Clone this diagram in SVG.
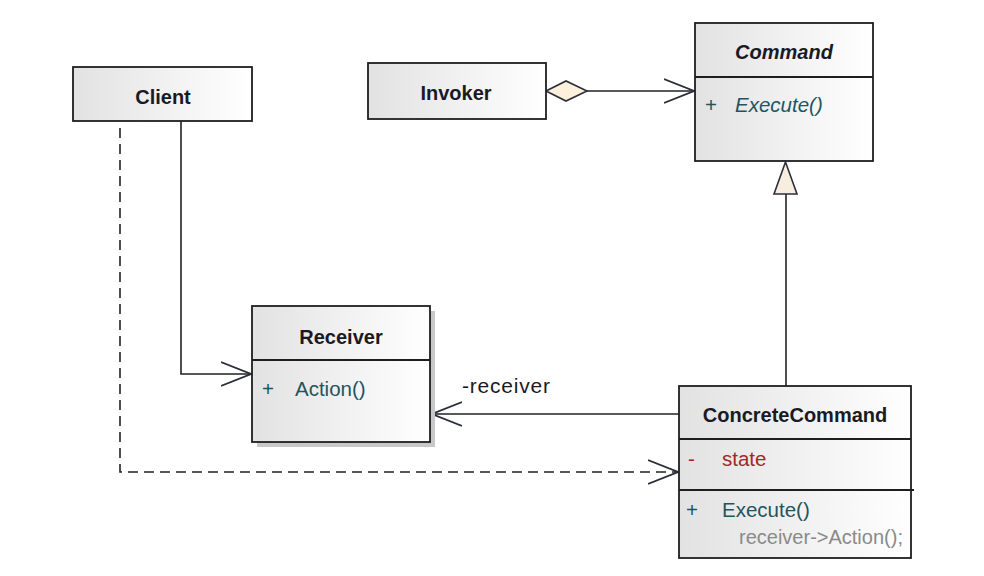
<svg xmlns="http://www.w3.org/2000/svg" width="984" height="576" viewBox="0 0 984 576">
<defs>
<linearGradient id="boxfill" x1="0" y1="0" x2="1" y2="0">
<stop offset="0" stop-color="#e2e2e2"/>
<stop offset="1" stop-color="#ffffff"/>
</linearGradient>
<marker id="open" viewBox="0 0 32 26" refX="30" refY="13" markerWidth="32" markerHeight="26" markerUnits="userSpaceOnUse" orient="auto">
<path d="M0,1 L30,13 L0,25" fill="none" stroke="#2b2f3a" stroke-width="1.8"/>
</marker>
</defs>
<style>
.box{fill:url(#boxfill);stroke:#1e1e1e;stroke-width:1.8}
.div{stroke:#1e1e1e;stroke-width:1.8}
.shadow{fill:#c8c8c8}
.title{font-family:"Liberation Sans",Arial,sans-serif;font-weight:bold;font-size:20px;fill:#1a1a24;text-anchor:middle}
.mem{font-family:"Liberation Sans",Arial,sans-serif;font-size:20.5px;fill:#1f5560}
.priv{font-family:"Liberation Sans",Arial,sans-serif;font-size:20.5px;fill:#a02828}
.note{font-family:"Liberation Sans",Arial,sans-serif;font-size:20px;fill:#8a8a8a}
.lbl{font-family:"Liberation Sans",Arial,sans-serif;font-size:21px;letter-spacing:0.8px;fill:#1a1a24}
.conn{fill:none;stroke:#222;stroke-width:1.6}
.dash{stroke-dasharray:10,6}
</style>
<rect width="984" height="576" fill="#ffffff"/>

<g id="connectors">
<polyline class="conn" points="181,121 181,374 251,374" marker-end="url(#open)"/>
<polyline class="conn dash" points="120,128 120,472 678,472" marker-end="url(#open)"/>
<line class="conn" x1="587" y1="91" x2="694" y2="91" marker-end="url(#open)"/>
<polygon points="546,91 566,81 587,91 566,101" fill="#fdf0dc" stroke="#2b2f3a" stroke-width="1.6"/>
<line class="conn" x1="679" y1="414" x2="432" y2="414" marker-end="url(#open)"/>
<line class="conn" x1="786" y1="194" x2="786" y2="386"/>
<polygon points="785.5,162 774,194 797,194" fill="#f8eee0" stroke="#2b2f3a" stroke-width="1.6"/>
<text class="lbl" x="462" y="393">-receiver</text>
</g>

<g id="client">
<rect class="box" x="73" y="67" width="179" height="54"/>
<text class="title" x="163" y="104">Client</text>
</g>

<g id="invoker">
<rect class="box" x="368" y="63" width="178" height="56"/>
<text class="title" x="456" y="100">Invoker</text>
</g>

<g id="command">
<rect class="box" x="695" y="23" width="178" height="138"/>
<line class="div" x1="695" y1="77" x2="873" y2="77"/>
<text class="title" x="784" y="58.5" font-style="italic">Command</text>
<text class="mem" x="705" y="112">+</text>
<text class="mem" x="735" y="112" font-style="italic">Execute()</text>
</g>

<g id="receiver">
<rect class="shadow" x="257" y="311" width="178" height="136"/>
<rect class="box" x="252" y="306" width="178" height="136"/>
<line class="div" x1="252" y1="360" x2="430" y2="360"/>
<text class="title" x="341" y="344">Receiver</text>
<text class="mem" x="262" y="396">+</text>
<text class="mem" x="295" y="396">Action()</text>
</g>

<g id="concretecommand">
<rect class="box" x="679" y="386" width="232" height="172"/>
<line class="div" x1="679" y1="439" x2="911" y2="439"/>
<line class="div" x1="679" y1="490" x2="914" y2="490"/>
<text class="title" x="795" y="422">ConcreteCommand</text>
<text class="priv" x="688" y="466">-</text>
<text class="priv" x="722" y="466">state</text>
<text class="mem" x="686" y="517">+</text>
<text class="mem" x="722" y="517">Execute()</text>
<text class="note" x="739" y="544">receiver-&gt;Action();</text>
</g>
</svg>
